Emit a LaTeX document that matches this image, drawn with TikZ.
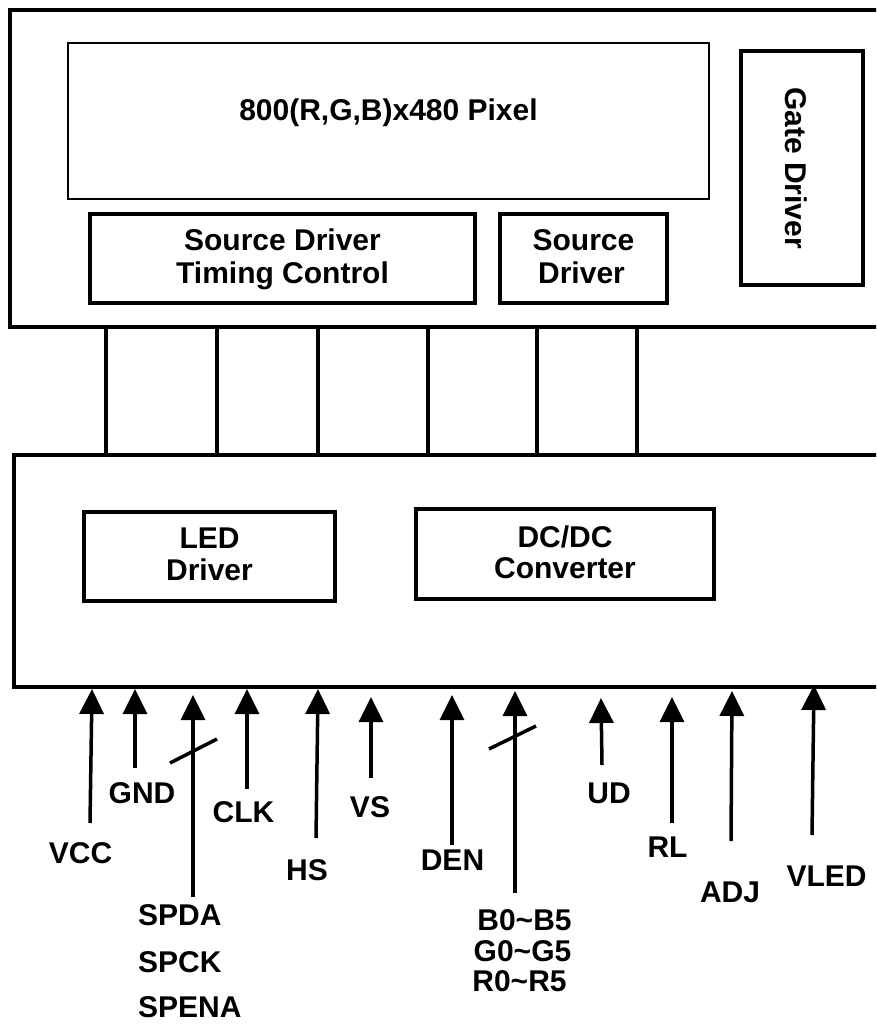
\documentclass[tikz,border=0pt]{standalone}
\usepackage{fontspec}
\setmainfont{Liberation Sans}
\usetikzlibrary{arrows.meta}
\begin{document}
\begin{tikzpicture}[x=1pt,y=-1pt,
  txt/.style={font=\fontsize{30}{32}\selectfont\bfseries, inner sep=0pt, anchor=base},
  blk/.style={draw, line width=4pt, inner sep=0pt},
  sig/.style={line width=3.5pt, -{Triangle[width=24pt,length=25pt]}},
  wire/.style={line width=3.3pt},
  slash/.style={line width=3.5pt}]
\clip (0,0) rectangle (876,1024);
\fill[white] (0,0) rectangle (876,1024);

% outer panel and boards
\node[blk, line width=4.3pt, minimum width=890pt, minimum height=317pt] (panel) at (455,168.5) {};
\node[blk, line width=3.3pt, minimum width=886pt, minimum height=232pt] (board) at (457,571) {};

% inner blocks
\node[blk, line width=2.7pt, minimum width=641pt, minimum height=156pt] (pixel) at (388.5,121) {};
\node[blk, minimum width=122pt, minimum height=234pt] (gate) at (802,168) {};
\node[blk, minimum width=385pt, minimum height=89pt] (sdtc) at (282.5,258.5) {};
\node[blk, minimum width=167pt, minimum height=89pt] (sdrv) at (583.5,258.5) {};
\node[blk, minimum width=251pt, minimum height=89pt] (led) at (209.5,556.5) {};
\node[blk, minimum width=298pt, minimum height=90pt] (dcdc) at (565,554) {};

% block texts
\node[txt] (tpix) at (388.5,121) {800(R,G,B)x480 Pixel};
\node[txt, rotate=-90] (tgate) at (785,168) {Gate Driver};
\node[txt] (tsd1) at (282.5,250) {Source Driver};
\node[txt] (tsd2) at (282.5,283) {Timing Control};
\node[txt] (tsr1) at (583.5,250) {Source};
\node[txt] (tsr2) at (581.5,283) {Driver};
\node[txt] (tled1) at (209.5,548) {LED};
\node[txt] (tled2) at (209.5,580) {Driver};
\node[txt] (tdc1) at (565,547) {DC/DC};
\node[txt] (tdc2) at (565,578) {Converter};

% connections between panel and board
\foreach \x in {106,217,318,428,537,637}
  \draw[wire] (\x,0 |- panel.south) -- (\x,0 |- board.north);

% input signals
\coordinate (vccT) at (90,823);  \coordinate (vccH) at (92,689);
\coordinate (gndT) at (135,768); \coordinate (gndH) at (135,689);
\coordinate (spT) at (193,897);  \coordinate (spH) at (193,695);
\coordinate (clkT) at (247,789); \coordinate (clkH) at (247,689);
\coordinate (hsT) at (316,838);  \coordinate (hsH) at (318,689);
\coordinate (vsT) at (371,778);  \coordinate (vsH) at (371,697);
\coordinate (denT) at (452,845); \coordinate (denH) at (452,695);
\coordinate (rgbT) at (515,893); \coordinate (rgbH) at (515,691);
\coordinate (udT) at (602,765);  \coordinate (udH) at (601,698);
\coordinate (rlT) at (672,823);  \coordinate (rlH) at (672,697);
\coordinate (adjT) at (731,841); \coordinate (adjH) at (732,691);
\coordinate (vledT) at (812,835); \coordinate (vledH) at (814,685);

\foreach \s in {vcc,gnd,sp,clk,hs,vs,den,rgb,ud,rl,adj,vled}
  \draw[sig] (\s T) -- (\s H);

% bus slashes
\coordinate (sl1a) at (170,763); \coordinate (sl1b) at (217,739);
\coordinate (sl2a) at (489,749); \coordinate (sl2b) at (536,726);
\draw[slash] (sl1a) -- (sl1b);
\draw[slash] (sl2a) -- (sl2b);

% labels
\node[txt] (lvcc) at (80.5,863) {VCC};
\node[txt] (lgnd) at (142,803) {GND};
\node[txt] (lclk) at (243.5,822) {CLK};
\node[txt] (lhs) at (307,880) {HS};
\node[txt] (lvs) at (370,817) {VS};
\node[txt, anchor=base west] (lspda) at (138,925) {SPDA};
\node[txt, anchor=base west] (lspck) at (138,972) {SPCK};
\node[txt, anchor=base west] (lspena) at (138,1017) {SPENA};
\node[txt] (lden) at (452.5,870) {DEN};
\node[txt] (lb) at (524.5,930) {B0\textasciitilde B5};
\node[txt] (lg) at (522.5,961) {G0\textasciitilde G5};
\node[txt] (lr) at (519.5,991) {R0\textasciitilde R5};
\node[txt] (lud) at (609,803) {UD};
\node[txt] (lrl) at (667.5,857) {RL};
\node[txt] (ladj) at (730,902) {ADJ};
\node[txt] (lvled) at (826.5,886) {VLED};
\end{tikzpicture}
\end{document}
